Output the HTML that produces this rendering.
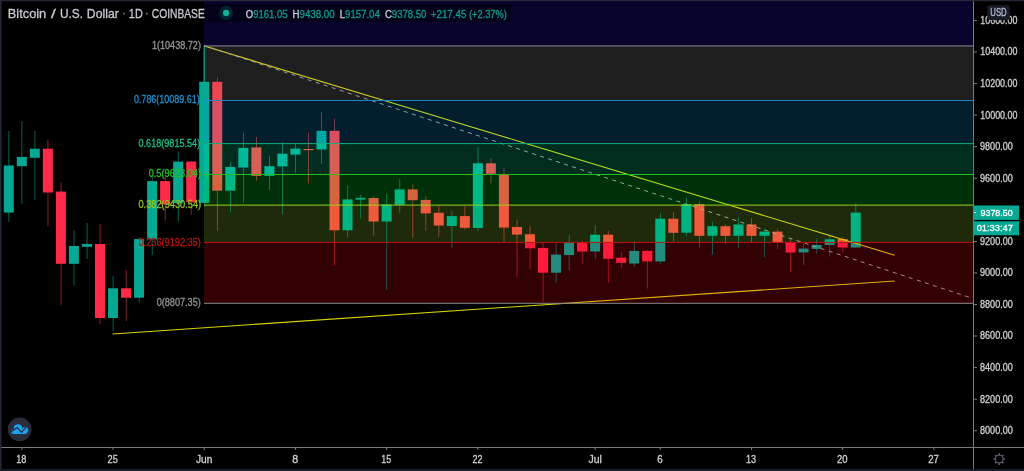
<!DOCTYPE html>
<html><head><meta charset="utf-8"><style>
html,body{margin:0;padding:0;background:#000;}
body{width:1024px;height:471px;overflow:hidden;position:relative;}
svg{position:absolute;left:0;top:0;display:block;}
text{font-family:"Liberation Sans",sans-serif;font-kerning:none;stroke-width:0.3px;}
</style></head><body>
<svg width="1024" height="471" viewBox="0 0 1024 471">
<defs><clipPath id="z0"><rect x="204" y="0" width="769" height="45.9"/></clipPath><clipPath id="z1"><rect x="204" y="45.9" width="769" height="54.6"/></clipPath><clipPath id="z2"><rect x="204" y="100.5" width="769" height="43.1"/></clipPath><clipPath id="z3"><rect x="204" y="143.6" width="769" height="30.9"/></clipPath><clipPath id="z4"><rect x="204" y="174.5" width="769" height="30.6"/></clipPath><clipPath id="z5"><rect x="204" y="205.1" width="769" height="37.3"/></clipPath><clipPath id="z6"><rect x="204" y="242.4" width="769" height="60.9"/></clipPath></defs>
<rect width="1024" height="471" fill="#000"/>
<g id="base"><rect x="8.44" y="131" width="0.85" height="91.0" fill="#037264"/>
<rect x="3.77" y="165.5" width="10" height="47.1" fill="#05a893"/>
<rect x="21.47" y="121" width="0.85" height="82.7" fill="#037264"/>
<rect x="16.80" y="156.9" width="10" height="9.3" fill="#05a893"/>
<rect x="34.51" y="131" width="0.85" height="68.8" fill="#037264"/>
<rect x="29.83" y="148.7" width="10" height="9.1" fill="#05a893"/>
<rect x="47.54" y="140" width="0.85" height="86.0" fill="#ac1d32"/>
<rect x="42.86" y="148.7" width="10" height="43.8" fill="#fd2a4a"/>
<rect x="60.57" y="182.6" width="0.85" height="122.2" fill="#ac1d32"/>
<rect x="55.89" y="191.6" width="10" height="72.2" fill="#fd2a4a"/>
<rect x="73.59" y="230.2" width="0.85" height="55.0" fill="#037264"/>
<rect x="68.92" y="246" width="10" height="17.8" fill="#05a893"/>
<rect x="86.62" y="223" width="0.85" height="36.0" fill="#037264"/>
<rect x="81.95" y="244" width="10" height="2.8" fill="#05a893"/>
<rect x="99.65" y="223.8" width="0.85" height="100.2" fill="#ac1d32"/>
<rect x="94.98" y="244" width="10" height="74.0" fill="#fd2a4a"/>
<rect x="112.68" y="276" width="0.85" height="54.8" fill="#037264"/>
<rect x="108.01" y="288.3" width="10" height="29.7" fill="#05a893"/>
<rect x="125.71" y="270.2" width="0.85" height="50.8" fill="#ac1d32"/>
<rect x="121.04" y="288.3" width="10" height="9.4" fill="#fd2a4a"/>
<rect x="138.74" y="237" width="0.85" height="65.8" fill="#037264"/>
<rect x="134.07" y="239.1" width="10" height="58.6" fill="#05a893"/>
<rect x="151.77" y="177.0" width="0.85" height="77.9" fill="#037264"/>
<rect x="147.10" y="181.1" width="10" height="58.3" fill="#05a893"/>
<rect x="164.80" y="176.8" width="0.85" height="43.9" fill="#ac1d32"/>
<rect x="160.13" y="181.1" width="10" height="23.4" fill="#fd2a4a"/>
<rect x="177.83" y="151.8" width="0.85" height="69.7" fill="#037264"/>
<rect x="173.16" y="161.6" width="10" height="41.6" fill="#05a893"/>
<rect x="190.86" y="161.0" width="0.85" height="53.6" fill="#ac1d32"/>
<rect x="186.19" y="161.6" width="10" height="40.7" fill="#fd2a4a"/>
<rect x="203.89" y="45.9" width="0.85" height="160.8" fill="#037264"/>
<rect x="199.22" y="81.8" width="10" height="121.1" fill="#05a893"/>
<rect x="216.92" y="77.1" width="0.85" height="153.7" fill="#ac1d32"/>
<rect x="212.25" y="81.8" width="10" height="108.9" fill="#fd2a4a"/>
<rect x="229.95" y="162.4" width="0.85" height="50.0" fill="#037264"/>
<rect x="225.28" y="167" width="10" height="23.7" fill="#05a893"/>
<rect x="242.98" y="132.6" width="0.85" height="70.1" fill="#037264"/>
<rect x="238.31" y="147.9" width="10" height="19.6" fill="#05a893"/>
<rect x="256.01" y="136.9" width="0.85" height="43.7" fill="#ac1d32"/>
<rect x="251.34" y="147.4" width="10" height="28.5" fill="#fd2a4a"/>
<rect x="269.04" y="156.1" width="0.85" height="33.9" fill="#037264"/>
<rect x="264.37" y="166.2" width="10" height="9.7" fill="#05a893"/>
<rect x="282.07" y="142" width="0.85" height="72.4" fill="#037264"/>
<rect x="277.40" y="153.7" width="10" height="12.7" fill="#05a893"/>
<rect x="295.10" y="143.2" width="0.85" height="29.7" fill="#037264"/>
<rect x="290.43" y="148.6" width="10" height="6.0" fill="#05a893"/>
<rect x="308.13" y="132.6" width="0.85" height="50.8" fill="#ac1d32"/>
<rect x="303.46" y="149" width="10" height="1.2" fill="#fd2a4a"/>
<rect x="321.16" y="111.6" width="0.85" height="52.2" fill="#037264"/>
<rect x="316.49" y="130.8" width="10" height="18.6" fill="#05a893"/>
<rect x="334.19" y="118.6" width="0.85" height="146.4" fill="#ac1d32"/>
<rect x="329.52" y="130.8" width="10" height="99.5" fill="#fd2a4a"/>
<rect x="347.22" y="185.3" width="0.85" height="52.0" fill="#037264"/>
<rect x="342.55" y="199.4" width="10" height="30.9" fill="#05a893"/>
<rect x="360.25" y="194.7" width="0.85" height="23.9" fill="#037264"/>
<rect x="355.58" y="197.9" width="10" height="1.7" fill="#05a893"/>
<rect x="373.28" y="196.3" width="0.85" height="39.2" fill="#ac1d32"/>
<rect x="368.61" y="198" width="10" height="23.5" fill="#fd2a4a"/>
<rect x="386.31" y="193.8" width="0.85" height="96.2" fill="#037264"/>
<rect x="381.64" y="204.4" width="10" height="17.1" fill="#05a893"/>
<rect x="399.34" y="178.8" width="0.85" height="34.0" fill="#037264"/>
<rect x="394.67" y="189.4" width="10" height="15.4" fill="#05a893"/>
<rect x="412.38" y="184" width="0.85" height="53.9" fill="#ac1d32"/>
<rect x="407.70" y="189.4" width="10" height="10.8" fill="#fd2a4a"/>
<rect x="425.40" y="196.2" width="0.85" height="34.7" fill="#ac1d32"/>
<rect x="420.73" y="199.9" width="10" height="13.5" fill="#fd2a4a"/>
<rect x="438.43" y="205.5" width="0.85" height="31.2" fill="#ac1d32"/>
<rect x="433.76" y="212.8" width="10" height="12.7" fill="#fd2a4a"/>
<rect x="451.46" y="210.9" width="0.85" height="37.1" fill="#037264"/>
<rect x="446.79" y="216.1" width="10" height="9.9" fill="#05a893"/>
<rect x="464.49" y="206.2" width="0.85" height="23.5" fill="#ac1d32"/>
<rect x="459.82" y="216.1" width="10" height="11.7" fill="#fd2a4a"/>
<rect x="477.52" y="146.9" width="0.85" height="83.9" fill="#037264"/>
<rect x="472.85" y="163.3" width="10" height="64.6" fill="#05a893"/>
<rect x="490.55" y="158.1" width="0.85" height="25.3" fill="#ac1d32"/>
<rect x="485.88" y="163.3" width="10" height="10.5" fill="#fd2a4a"/>
<rect x="503.58" y="168" width="0.85" height="74.1" fill="#ac1d32"/>
<rect x="498.91" y="174.5" width="10" height="53.1" fill="#fd2a4a"/>
<rect x="516.62" y="219.4" width="0.85" height="57.5" fill="#ac1d32"/>
<rect x="511.94" y="227.0" width="10" height="7.6" fill="#fd2a4a"/>
<rect x="529.64" y="226.2" width="0.85" height="42.9" fill="#ac1d32"/>
<rect x="524.97" y="234.2" width="10" height="14.1" fill="#fd2a4a"/>
<rect x="542.68" y="242.9" width="0.85" height="59.1" fill="#ac1d32"/>
<rect x="538.00" y="248.0" width="10" height="24.7" fill="#fd2a4a"/>
<rect x="555.71" y="242.9" width="0.85" height="40.3" fill="#037264"/>
<rect x="551.03" y="254.6" width="10" height="18.1" fill="#05a893"/>
<rect x="568.74" y="235.2" width="0.85" height="35.1" fill="#037264"/>
<rect x="564.06" y="242.9" width="10" height="12.2" fill="#05a893"/>
<rect x="581.76" y="241" width="0.85" height="22.7" fill="#ac1d32"/>
<rect x="577.09" y="242.9" width="10" height="8.6" fill="#fd2a4a"/>
<rect x="594.80" y="225.3" width="0.85" height="33.7" fill="#037264"/>
<rect x="590.12" y="234.7" width="10" height="16.8" fill="#05a893"/>
<rect x="607.83" y="230.9" width="0.85" height="51.6" fill="#ac1d32"/>
<rect x="603.15" y="234.7" width="10" height="24.1" fill="#fd2a4a"/>
<rect x="620.86" y="252" width="0.85" height="16.0" fill="#ac1d32"/>
<rect x="616.18" y="257.7" width="10" height="5.1" fill="#fd2a4a"/>
<rect x="633.88" y="241.7" width="0.85" height="25.1" fill="#037264"/>
<rect x="629.21" y="250.9" width="10" height="12.6" fill="#05a893"/>
<rect x="646.91" y="249.7" width="0.85" height="38.9" fill="#ac1d32"/>
<rect x="642.24" y="250.9" width="10" height="10.5" fill="#fd2a4a"/>
<rect x="659.95" y="212.9" width="0.85" height="50.8" fill="#037264"/>
<rect x="655.27" y="218.7" width="10" height="42.7" fill="#05a893"/>
<rect x="672.98" y="212.2" width="0.85" height="29.5" fill="#ac1d32"/>
<rect x="668.30" y="218.7" width="10" height="14.1" fill="#fd2a4a"/>
<rect x="686.00" y="198" width="0.85" height="38.5" fill="#037264"/>
<rect x="681.33" y="204.1" width="10" height="28.6" fill="#05a893"/>
<rect x="699.03" y="201.5" width="0.85" height="47.0" fill="#ac1d32"/>
<rect x="694.36" y="204.1" width="10" height="31.7" fill="#fd2a4a"/>
<rect x="712.07" y="221.7" width="0.85" height="32.8" fill="#037264"/>
<rect x="707.39" y="226.2" width="10" height="9.6" fill="#05a893"/>
<rect x="725.10" y="224.5" width="0.85" height="19.5" fill="#ac1d32"/>
<rect x="720.42" y="226.2" width="10" height="9.6" fill="#fd2a4a"/>
<rect x="738.12" y="217.5" width="0.85" height="30.7" fill="#037264"/>
<rect x="733.45" y="224.5" width="10" height="11.3" fill="#05a893"/>
<rect x="751.15" y="218.2" width="0.85" height="23.9" fill="#ac1d32"/>
<rect x="746.48" y="224.5" width="10" height="11.3" fill="#fd2a4a"/>
<rect x="764.19" y="228.7" width="0.85" height="28.6" fill="#037264"/>
<rect x="759.51" y="231.6" width="10" height="4.2" fill="#05a893"/>
<rect x="777.22" y="229.2" width="0.85" height="19.9" fill="#ac1d32"/>
<rect x="772.54" y="231.6" width="10" height="10.7" fill="#fd2a4a"/>
<rect x="790.25" y="238.6" width="0.85" height="33.3" fill="#ac1d32"/>
<rect x="785.57" y="242.5" width="10" height="10.0" fill="#fd2a4a"/>
<rect x="803.27" y="243.7" width="0.85" height="21.1" fill="#037264"/>
<rect x="798.60" y="248.6" width="10" height="3.8" fill="#05a893"/>
<rect x="816.31" y="239.1" width="0.85" height="14.7" fill="#037264"/>
<rect x="811.63" y="244.9" width="10" height="4.0" fill="#05a893"/>
<rect x="829.34" y="234.4" width="0.85" height="22.2" fill="#037264"/>
<rect x="824.66" y="239.3" width="10" height="5.7" fill="#05a893"/>
<rect x="842.37" y="237" width="0.85" height="15.2" fill="#ac1d32"/>
<rect x="837.69" y="239.0" width="10" height="8.5" fill="#fd2a4a"/>
<rect x="855.39" y="203.2" width="0.85" height="45.2" fill="#037264"/>
<rect x="850.72" y="212.6" width="10" height="34.9" fill="#05a893"/><line x1="204" y1="45.9" x2="894.6" y2="255.2" stroke="#d8d400" stroke-width="1.1"/><line x1="112.6" y1="334.0" x2="894.6" y2="281.0" stroke="#d8d400" stroke-width="1.1"/><line x1="204" y1="45.5" x2="969" y2="297.2" stroke="#a0a0a0" stroke-width="1" stroke-dasharray="4 4.44" stroke-dashoffset="0.63"/></g>
<g clip-path="url(#z0)"><rect x="204" y="0" width="769" height="45.9" fill="#08042c"/><rect x="203.89" y="45.9" width="0.85" height="160.8" fill="#066e74"/><line x1="204" y1="45.9" x2="894.6" y2="255.2" stroke="#b9b22c" stroke-width="1.1"/><line x1="112.6" y1="334.0" x2="894.6" y2="281.0" stroke="#b9b22c" stroke-width="1.1"/><line x1="204" y1="45.5" x2="969" y2="297.2" stroke="#8b87af" stroke-width="1" stroke-dasharray="4 4.44" stroke-dashoffset="0.63"/></g>
<g clip-path="url(#z1)"><rect x="204" y="45.9" width="769" height="54.6" fill="#1e1e1e"/><rect x="203.89" y="45.9" width="0.85" height="160.8" fill="#0f7d70"/>
<rect x="199.22" y="81.8" width="10" height="121.1" fill="#08aa96"/>
<rect x="216.92" y="77.1" width="0.85" height="153.7" fill="#a93941"/>
<rect x="212.25" y="81.8" width="10" height="108.9" fill="#eb4652"/><line x1="204" y1="45.9" x2="894.6" y2="255.2" stroke="#cfcc1e" stroke-width="1.1"/><line x1="112.6" y1="334.0" x2="894.6" y2="281.0" stroke="#cfcc1e" stroke-width="1.1"/><line x1="204" y1="45.5" x2="969" y2="297.2" stroke="#a1a1a1" stroke-width="1" stroke-dasharray="4 4.44" stroke-dashoffset="0.63"/></g>
<g clip-path="url(#z2)"><rect x="204" y="100.5" width="769" height="43.1" fill="#031e2c"/><rect x="203.89" y="45.9" width="0.85" height="160.8" fill="#017c7e"/>
<rect x="199.22" y="81.8" width="10" height="121.1" fill="#00a8a5"/>
<rect x="216.92" y="77.1" width="0.85" height="153.7" fill="#934052"/>
<rect x="212.25" y="81.8" width="10" height="108.9" fill="#d75064"/>
<rect x="242.98" y="132.6" width="0.85" height="70.1" fill="#017c7e"/>
<rect x="256.01" y="136.9" width="0.85" height="43.7" fill="#934052"/>
<rect x="282.07" y="142" width="0.85" height="72.4" fill="#017c7e"/>
<rect x="295.10" y="143.2" width="0.85" height="29.7" fill="#017c7e"/>
<rect x="308.13" y="132.6" width="0.85" height="50.8" fill="#934052"/>
<rect x="321.16" y="111.6" width="0.85" height="52.2" fill="#017c7e"/>
<rect x="316.49" y="130.8" width="10" height="18.6" fill="#00a8a5"/>
<rect x="334.19" y="118.6" width="0.85" height="146.4" fill="#934052"/>
<rect x="329.52" y="130.8" width="10" height="99.5" fill="#d75064"/><line x1="204" y1="45.9" x2="894.6" y2="255.2" stroke="#b4cc2c" stroke-width="1.1"/><line x1="112.6" y1="334.0" x2="894.6" y2="281.0" stroke="#b4cc2c" stroke-width="1.1"/><line x1="204" y1="45.5" x2="969" y2="297.2" stroke="#86a1af" stroke-width="1" stroke-dasharray="4 4.44" stroke-dashoffset="0.63"/></g>
<g clip-path="url(#z3)"><rect x="204" y="143.6" width="769" height="30.9" fill="#002d1e"/><rect x="203.89" y="45.9" width="0.85" height="160.8" fill="#008c73"/>
<rect x="199.22" y="81.8" width="10" height="121.1" fill="#00b99b"/>
<rect x="216.92" y="77.1" width="0.85" height="153.7" fill="#924f43"/>
<rect x="212.25" y="81.8" width="10" height="108.9" fill="#d75f55"/>
<rect x="229.95" y="162.4" width="0.85" height="50.0" fill="#008c73"/>
<rect x="225.28" y="167" width="10" height="23.7" fill="#00b99b"/>
<rect x="242.98" y="132.6" width="0.85" height="70.1" fill="#008c73"/>
<rect x="238.31" y="147.9" width="10" height="19.6" fill="#00b99b"/>
<rect x="256.01" y="136.9" width="0.85" height="43.7" fill="#924f43"/>
<rect x="251.34" y="147.4" width="10" height="28.5" fill="#d75f55"/>
<rect x="269.04" y="156.1" width="0.85" height="33.9" fill="#008c73"/>
<rect x="264.37" y="166.2" width="10" height="9.7" fill="#00b99b"/>
<rect x="282.07" y="142" width="0.85" height="72.4" fill="#008c73"/>
<rect x="277.40" y="153.7" width="10" height="12.7" fill="#00b99b"/>
<rect x="295.10" y="143.2" width="0.85" height="29.7" fill="#008c73"/>
<rect x="290.43" y="148.6" width="10" height="6.0" fill="#00b99b"/>
<rect x="308.13" y="132.6" width="0.85" height="50.8" fill="#924f43"/>
<rect x="303.46" y="149" width="10" height="1.2" fill="#d75f55"/>
<rect x="321.16" y="111.6" width="0.85" height="52.2" fill="#008c73"/>
<rect x="316.49" y="130.8" width="10" height="18.6" fill="#00b99b"/>
<rect x="334.19" y="118.6" width="0.85" height="146.4" fill="#924f43"/>
<rect x="329.52" y="130.8" width="10" height="99.5" fill="#d75f55"/>
<rect x="477.52" y="146.9" width="0.85" height="83.9" fill="#008c73"/>
<rect x="472.85" y="163.3" width="10" height="64.6" fill="#00b99b"/>
<rect x="490.55" y="158.1" width="0.85" height="25.3" fill="#924f43"/>
<rect x="485.88" y="163.3" width="10" height="10.5" fill="#d75f55"/>
<rect x="503.58" y="168" width="0.85" height="74.1" fill="#924f43"/>
<rect x="498.91" y="174.5" width="10" height="53.1" fill="#d75f55"/><line x1="204" y1="45.9" x2="894.6" y2="255.2" stroke="#b1db1e" stroke-width="1.1"/><line x1="112.6" y1="334.0" x2="894.6" y2="281.0" stroke="#b1db1e" stroke-width="1.1"/><line x1="204" y1="45.5" x2="969" y2="297.2" stroke="#83b0a1" stroke-width="1" stroke-dasharray="4 4.44" stroke-dashoffset="0.63"/></g>
<g clip-path="url(#z4)"><rect x="204" y="174.5" width="769" height="30.6" fill="#003008"/><rect x="203.89" y="45.9" width="0.85" height="160.8" fill="#008d5b"/>
<rect x="199.22" y="81.8" width="10" height="121.1" fill="#00b982"/>
<rect x="216.92" y="77.1" width="0.85" height="153.7" fill="#92532f"/>
<rect x="212.25" y="81.8" width="10" height="108.9" fill="#d76441"/>
<rect x="229.95" y="162.4" width="0.85" height="50.0" fill="#008d5b"/>
<rect x="225.28" y="167" width="10" height="23.7" fill="#00b982"/>
<rect x="242.98" y="132.6" width="0.85" height="70.1" fill="#008d5b"/>
<rect x="256.01" y="136.9" width="0.85" height="43.7" fill="#92532f"/>
<rect x="251.34" y="147.4" width="10" height="28.5" fill="#d76441"/>
<rect x="269.04" y="156.1" width="0.85" height="33.9" fill="#008d5b"/>
<rect x="264.37" y="166.2" width="10" height="9.7" fill="#00b982"/>
<rect x="282.07" y="142" width="0.85" height="72.4" fill="#008d5b"/>
<rect x="308.13" y="132.6" width="0.85" height="50.8" fill="#92532f"/>
<rect x="334.19" y="118.6" width="0.85" height="146.4" fill="#92532f"/>
<rect x="329.52" y="130.8" width="10" height="99.5" fill="#d76441"/>
<rect x="347.22" y="185.3" width="0.85" height="52.0" fill="#008d5b"/>
<rect x="342.55" y="199.4" width="10" height="30.9" fill="#00b982"/>
<rect x="360.25" y="194.7" width="0.85" height="23.9" fill="#008d5b"/>
<rect x="355.58" y="197.9" width="10" height="1.7" fill="#00b982"/>
<rect x="373.28" y="196.3" width="0.85" height="39.2" fill="#92532f"/>
<rect x="368.61" y="198" width="10" height="23.5" fill="#d76441"/>
<rect x="386.31" y="193.8" width="0.85" height="96.2" fill="#008d5b"/>
<rect x="381.64" y="204.4" width="10" height="17.1" fill="#00b982"/>
<rect x="399.34" y="178.8" width="0.85" height="34.0" fill="#008d5b"/>
<rect x="394.67" y="189.4" width="10" height="15.4" fill="#00b982"/>
<rect x="412.38" y="184" width="0.85" height="53.9" fill="#92532f"/>
<rect x="407.70" y="189.4" width="10" height="10.8" fill="#d76441"/>
<rect x="425.40" y="196.2" width="0.85" height="34.7" fill="#92532f"/>
<rect x="420.73" y="199.9" width="10" height="13.5" fill="#d76441"/>
<rect x="477.52" y="146.9" width="0.85" height="83.9" fill="#008d5b"/>
<rect x="472.85" y="163.3" width="10" height="64.6" fill="#00b982"/>
<rect x="490.55" y="158.1" width="0.85" height="25.3" fill="#92532f"/>
<rect x="503.58" y="168" width="0.85" height="74.1" fill="#92532f"/>
<rect x="498.91" y="174.5" width="10" height="53.1" fill="#d76441"/>
<rect x="686.00" y="198" width="0.85" height="38.5" fill="#008d5b"/>
<rect x="681.33" y="204.1" width="10" height="28.6" fill="#00b982"/>
<rect x="699.03" y="201.5" width="0.85" height="47.0" fill="#92532f"/>
<rect x="694.36" y="204.1" width="10" height="31.7" fill="#d76441"/>
<rect x="855.39" y="203.2" width="0.85" height="45.2" fill="#008d5b"/><line x1="204" y1="45.9" x2="894.6" y2="255.2" stroke="#b1de08" stroke-width="1.1"/><line x1="112.6" y1="334.0" x2="894.6" y2="281.0" stroke="#b1de08" stroke-width="1.1"/><line x1="204" y1="45.5" x2="969" y2="297.2" stroke="#83b38b" stroke-width="1" stroke-dasharray="4 4.44" stroke-dashoffset="0.63"/></g>
<g clip-path="url(#z5)"><rect x="204" y="205.1" width="769" height="37.3" fill="#1e2a09"/><rect x="203.89" y="45.9" width="0.85" height="160.8" fill="#0a885b"/>
<rect x="216.92" y="77.1" width="0.85" height="153.7" fill="#ad4b2c"/>
<rect x="229.95" y="162.4" width="0.85" height="50.0" fill="#0a885b"/>
<rect x="282.07" y="142" width="0.85" height="72.4" fill="#0a885b"/>
<rect x="334.19" y="118.6" width="0.85" height="146.4" fill="#ad4b2c"/>
<rect x="329.52" y="130.8" width="10" height="99.5" fill="#f05a3c"/>
<rect x="347.22" y="185.3" width="0.85" height="52.0" fill="#0a885b"/>
<rect x="342.55" y="199.4" width="10" height="30.9" fill="#00b482"/>
<rect x="360.25" y="194.7" width="0.85" height="23.9" fill="#0a885b"/>
<rect x="373.28" y="196.3" width="0.85" height="39.2" fill="#ad4b2c"/>
<rect x="368.61" y="198" width="10" height="23.5" fill="#f05a3c"/>
<rect x="386.31" y="193.8" width="0.85" height="96.2" fill="#0a885b"/>
<rect x="381.64" y="204.4" width="10" height="17.1" fill="#00b482"/>
<rect x="399.34" y="178.8" width="0.85" height="34.0" fill="#0a885b"/>
<rect x="412.38" y="184" width="0.85" height="53.9" fill="#ad4b2c"/>
<rect x="425.40" y="196.2" width="0.85" height="34.7" fill="#ad4b2c"/>
<rect x="420.73" y="199.9" width="10" height="13.5" fill="#f05a3c"/>
<rect x="438.43" y="205.5" width="0.85" height="31.2" fill="#ad4b2c"/>
<rect x="433.76" y="212.8" width="10" height="12.7" fill="#f05a3c"/>
<rect x="451.46" y="210.9" width="0.85" height="37.1" fill="#0a885b"/>
<rect x="446.79" y="216.1" width="10" height="9.9" fill="#00b482"/>
<rect x="464.49" y="206.2" width="0.85" height="23.5" fill="#ad4b2c"/>
<rect x="459.82" y="216.1" width="10" height="11.7" fill="#f05a3c"/>
<rect x="477.52" y="146.9" width="0.85" height="83.9" fill="#0a885b"/>
<rect x="472.85" y="163.3" width="10" height="64.6" fill="#00b482"/>
<rect x="503.58" y="168" width="0.85" height="74.1" fill="#ad4b2c"/>
<rect x="498.91" y="174.5" width="10" height="53.1" fill="#f05a3c"/>
<rect x="516.62" y="219.4" width="0.85" height="57.5" fill="#ad4b2c"/>
<rect x="511.94" y="227.0" width="10" height="7.6" fill="#f05a3c"/>
<rect x="529.64" y="226.2" width="0.85" height="42.9" fill="#ad4b2c"/>
<rect x="524.97" y="234.2" width="10" height="14.1" fill="#f05a3c"/>
<rect x="568.74" y="235.2" width="0.85" height="35.1" fill="#0a885b"/>
<rect x="581.76" y="241" width="0.85" height="22.7" fill="#ad4b2c"/>
<rect x="594.80" y="225.3" width="0.85" height="33.7" fill="#0a885b"/>
<rect x="590.12" y="234.7" width="10" height="16.8" fill="#00b482"/>
<rect x="607.83" y="230.9" width="0.85" height="51.6" fill="#ad4b2c"/>
<rect x="603.15" y="234.7" width="10" height="24.1" fill="#f05a3c"/>
<rect x="633.88" y="241.7" width="0.85" height="25.1" fill="#0a885b"/>
<rect x="659.95" y="212.9" width="0.85" height="50.8" fill="#0a885b"/>
<rect x="655.27" y="218.7" width="10" height="42.7" fill="#00b482"/>
<rect x="672.98" y="212.2" width="0.85" height="29.5" fill="#ad4b2c"/>
<rect x="668.30" y="218.7" width="10" height="14.1" fill="#f05a3c"/>
<rect x="686.00" y="198" width="0.85" height="38.5" fill="#0a885b"/>
<rect x="681.33" y="204.1" width="10" height="28.6" fill="#00b482"/>
<rect x="699.03" y="201.5" width="0.85" height="47.0" fill="#ad4b2c"/>
<rect x="694.36" y="204.1" width="10" height="31.7" fill="#f05a3c"/>
<rect x="712.07" y="221.7" width="0.85" height="32.8" fill="#0a885b"/>
<rect x="707.39" y="226.2" width="10" height="9.6" fill="#00b482"/>
<rect x="725.10" y="224.5" width="0.85" height="19.5" fill="#ad4b2c"/>
<rect x="720.42" y="226.2" width="10" height="9.6" fill="#f05a3c"/>
<rect x="738.12" y="217.5" width="0.85" height="30.7" fill="#0a885b"/>
<rect x="733.45" y="224.5" width="10" height="11.3" fill="#00b482"/>
<rect x="751.15" y="218.2" width="0.85" height="23.9" fill="#ad4b2c"/>
<rect x="746.48" y="224.5" width="10" height="11.3" fill="#f05a3c"/>
<rect x="764.19" y="228.7" width="0.85" height="28.6" fill="#0a885b"/>
<rect x="759.51" y="231.6" width="10" height="4.2" fill="#00b482"/>
<rect x="777.22" y="229.2" width="0.85" height="19.9" fill="#ad4b2c"/>
<rect x="772.54" y="231.6" width="10" height="10.7" fill="#f05a3c"/>
<rect x="790.25" y="238.6" width="0.85" height="33.3" fill="#ad4b2c"/>
<rect x="816.31" y="239.1" width="0.85" height="14.7" fill="#0a885b"/>
<rect x="829.34" y="234.4" width="0.85" height="22.2" fill="#0a885b"/>
<rect x="824.66" y="239.3" width="10" height="5.7" fill="#00b482"/>
<rect x="842.37" y="237" width="0.85" height="15.2" fill="#ad4b2c"/>
<rect x="837.69" y="239.0" width="10" height="8.5" fill="#f05a3c"/>
<rect x="855.39" y="203.2" width="0.85" height="45.2" fill="#0a885b"/>
<rect x="850.72" y="212.6" width="10" height="34.9" fill="#00b482"/><line x1="204" y1="45.9" x2="894.6" y2="255.2" stroke="#cfd809" stroke-width="1.1"/><line x1="112.6" y1="334.0" x2="894.6" y2="281.0" stroke="#cfd809" stroke-width="1.1"/><line x1="204" y1="45.5" x2="969" y2="297.2" stroke="#a1ad8c" stroke-width="1" stroke-dasharray="4 4.44" stroke-dashoffset="0.63"/></g>
<g clip-path="url(#z6)"><rect x="204" y="242.4" width="769" height="60.9" fill="#320104"/><rect x="334.19" y="118.6" width="0.85" height="146.4" fill="#bd1329"/>
<rect x="386.31" y="193.8" width="0.85" height="96.2" fill="#286056"/>
<rect x="451.46" y="210.9" width="0.85" height="37.1" fill="#286056"/>
<rect x="516.62" y="219.4" width="0.85" height="57.5" fill="#bd1329"/>
<rect x="529.64" y="226.2" width="0.85" height="42.9" fill="#bd1329"/>
<rect x="524.97" y="234.2" width="10" height="14.1" fill="#ff1c3a"/>
<rect x="542.68" y="242.9" width="0.85" height="59.1" fill="#bd1329"/>
<rect x="538.00" y="248.0" width="10" height="24.7" fill="#ff1c3a"/>
<rect x="555.71" y="242.9" width="0.85" height="40.3" fill="#286056"/>
<rect x="551.03" y="254.6" width="10" height="18.1" fill="#238c7d"/>
<rect x="568.74" y="235.2" width="0.85" height="35.1" fill="#286056"/>
<rect x="564.06" y="242.9" width="10" height="12.2" fill="#238c7d"/>
<rect x="581.76" y="241" width="0.85" height="22.7" fill="#bd1329"/>
<rect x="577.09" y="242.9" width="10" height="8.6" fill="#ff1c3a"/>
<rect x="594.80" y="225.3" width="0.85" height="33.7" fill="#286056"/>
<rect x="590.12" y="234.7" width="10" height="16.8" fill="#238c7d"/>
<rect x="607.83" y="230.9" width="0.85" height="51.6" fill="#bd1329"/>
<rect x="603.15" y="234.7" width="10" height="24.1" fill="#ff1c3a"/>
<rect x="620.86" y="252" width="0.85" height="16.0" fill="#bd1329"/>
<rect x="616.18" y="257.7" width="10" height="5.1" fill="#ff1c3a"/>
<rect x="633.88" y="241.7" width="0.85" height="25.1" fill="#286056"/>
<rect x="629.21" y="250.9" width="10" height="12.6" fill="#238c7d"/>
<rect x="646.91" y="249.7" width="0.85" height="38.9" fill="#bd1329"/>
<rect x="642.24" y="250.9" width="10" height="10.5" fill="#ff1c3a"/>
<rect x="659.95" y="212.9" width="0.85" height="50.8" fill="#286056"/>
<rect x="655.27" y="218.7" width="10" height="42.7" fill="#238c7d"/>
<rect x="699.03" y="201.5" width="0.85" height="47.0" fill="#bd1329"/>
<rect x="712.07" y="221.7" width="0.85" height="32.8" fill="#286056"/>
<rect x="725.10" y="224.5" width="0.85" height="19.5" fill="#bd1329"/>
<rect x="738.12" y="217.5" width="0.85" height="30.7" fill="#286056"/>
<rect x="764.19" y="228.7" width="0.85" height="28.6" fill="#286056"/>
<rect x="777.22" y="229.2" width="0.85" height="19.9" fill="#bd1329"/>
<rect x="790.25" y="238.6" width="0.85" height="33.3" fill="#bd1329"/>
<rect x="785.57" y="242.5" width="10" height="10.0" fill="#ff1c3a"/>
<rect x="803.27" y="243.7" width="0.85" height="21.1" fill="#286056"/>
<rect x="798.60" y="248.6" width="10" height="3.8" fill="#238c7d"/>
<rect x="816.31" y="239.1" width="0.85" height="14.7" fill="#286056"/>
<rect x="811.63" y="244.9" width="10" height="4.0" fill="#238c7d"/>
<rect x="829.34" y="234.4" width="0.85" height="22.2" fill="#286056"/>
<rect x="824.66" y="239.3" width="10" height="5.7" fill="#238c7d"/>
<rect x="842.37" y="237" width="0.85" height="15.2" fill="#bd1329"/>
<rect x="837.69" y="239.0" width="10" height="8.5" fill="#ff1c3a"/>
<rect x="855.39" y="203.2" width="0.85" height="45.2" fill="#286056"/>
<rect x="850.72" y="212.6" width="10" height="34.9" fill="#238c7d"/><line x1="204" y1="45.9" x2="894.6" y2="255.2" stroke="#e3af04" stroke-width="1.1"/><line x1="112.6" y1="334.0" x2="894.6" y2="281.0" stroke="#e3af04" stroke-width="1.1"/><line x1="204" y1="45.5" x2="969" y2="297.2" stroke="#b58487" stroke-width="1" stroke-dasharray="4 4.44" stroke-dashoffset="0.63"/></g>
<rect x="203.55" y="46.2" width="1.1" height="35.8" fill="#04a58f"/>
<rect x="204" y="45.4" width="769" height="1" fill="#8c8a9c"/>
<rect x="204" y="100.0" width="769" height="1" fill="#1f86c0"/>
<rect x="204" y="143.1" width="769" height="1" fill="#12b07f"/>
<rect x="204" y="174.0" width="769" height="1" fill="#20c020"/>
<rect x="204" y="204.6" width="769" height="1" fill="#96d420"/>
<rect x="204" y="241.9" width="769" height="1" fill="#c01414"/>
<rect x="204" y="302.8" width="769" height="1" fill="#8a8a8a"/>
<g id="fiblabels">
<text x="151.91" y="48.60" font-size="10.4" textLength="49.06" lengthAdjust="spacingAndGlyphs" fill="#969696" stroke="#969696">1(10438.72)</text>
<text x="133.95" y="103.30" font-size="10.4" textLength="65.70" lengthAdjust="spacingAndGlyphs" fill="#1e90d0" stroke="#1e90d0">0.786(10089.61)</text>
<text x="138.55" y="146.60" font-size="10.4" textLength="61.62" lengthAdjust="spacingAndGlyphs" fill="#14c088" stroke="#14c088">0.618(9815.54)</text>
<text x="148.64" y="177.30" font-size="10.4" textLength="52.43" lengthAdjust="spacingAndGlyphs" fill="#22c322" stroke="#22c322">0.5(9623.04)</text>
<text x="138.44" y="207.70" font-size="10.4" textLength="62.73" lengthAdjust="spacingAndGlyphs" fill="#94c424" stroke="#94c424">0.382(9430.54)</text>
<text x="138.64" y="245.60" font-size="10.4" textLength="62.13" lengthAdjust="spacingAndGlyphs" fill="#b81212" stroke="#b81212">0.236(9192.35)</text>
<text x="156.64" y="305.70" font-size="10.4" textLength="44.12" lengthAdjust="spacingAndGlyphs" fill="#969696" stroke="#969696">0(8807.35)</text>
</g>
<rect x="5" y="3.8" width="506" height="18" fill="rgba(0,0,0,0.45)"/>
<circle cx="226.1" cy="13" r="6.9" fill="rgba(5,168,147,0.2)"/>
<circle cx="226.1" cy="13" r="3.15" fill="#12b096"/>
<text x="7.85" y="17.60" font-size="13.3" textLength="38.38" lengthAdjust="spacingAndGlyphs" fill="#c9cbd2" stroke="#c9cbd2">Bitcoin</text>
<text x="50.90" y="17.60" font-size="13.3" textLength="4.80" lengthAdjust="spacingAndGlyphs" fill="#c9cbd2" stroke="#c9cbd2">/</text>
<text x="59.88" y="17.60" font-size="13.3" textLength="23.10" lengthAdjust="spacingAndGlyphs" fill="#c9cbd2" stroke="#c9cbd2">U.S.</text>
<text x="86.79" y="17.60" font-size="13.3" textLength="32.01" lengthAdjust="spacingAndGlyphs" fill="#c9cbd2" stroke="#c9cbd2">Dollar</text>
<text x="128.87" y="17.60" font-size="13.3" textLength="13.95" lengthAdjust="spacingAndGlyphs" fill="#c9cbd2" stroke="#c9cbd2">1D</text>
<text x="151.78" y="17.60" font-size="13.3" textLength="52.96" lengthAdjust="spacingAndGlyphs" fill="#c9cbd2" stroke="#c9cbd2">COINBASE</text>
<text x="121.63" y="17.30" font-size="13.3" textLength="4.55" lengthAdjust="spacingAndGlyphs" fill="#7a7e90" stroke="#7a7e90">·</text>
<text x="144.53" y="17.30" font-size="13.3" textLength="4.55" lengthAdjust="spacingAndGlyphs" fill="#7a7e90" stroke="#7a7e90">·</text>
<text x="245.75" y="17.60" font-size="10.0" textLength="41.85" lengthAdjust="spacingAndGlyphs" fill="#0a9e8c" stroke="#0a9e8c"><tspan fill="#c9cbd2" stroke="#c9cbd2">O</tspan>9161.05</text>
<text x="292.50" y="17.60" font-size="10.0" textLength="42.18" lengthAdjust="spacingAndGlyphs" fill="#0a9e8c" stroke="#0a9e8c"><tspan fill="#c9cbd2" stroke="#c9cbd2">H</tspan>9438.00</text>
<text x="339.71" y="17.60" font-size="10.0" textLength="40.07" lengthAdjust="spacingAndGlyphs" fill="#0a9e8c" stroke="#0a9e8c"><tspan fill="#c9cbd2" stroke="#c9cbd2">L</tspan>9157.04</text>
<text x="384.91" y="17.60" font-size="10.0" textLength="41.56" lengthAdjust="spacingAndGlyphs" fill="#0a9e8c" stroke="#0a9e8c"><tspan fill="#c9cbd2" stroke="#c9cbd2">C</tspan>9378.50</text>
<text x="430.72" y="17.60" font-size="10.0" textLength="35.69" lengthAdjust="spacingAndGlyphs" fill="#0a9e8c" stroke="#0a9e8c">+217.45</text>
<text x="469.03" y="17.60" font-size="10.0" textLength="37.75" lengthAdjust="spacingAndGlyphs" fill="#0a9e8c" stroke="#0a9e8c">(+2.37%)</text>
<rect x="973" y="0" width="1" height="469" fill="#7a7a7a"/>
<rect x="0" y="447" width="1024" height="1" fill="#7a7a7a"/>
<g fill="#d0d0d0" stroke="#d0d0d0">
<rect x="974" y="19.9" width="3" height="1" fill="#7a7a7a" stroke="none"/>
<text x="980.32" y="23.84" font-size="10.0" textLength="37.13" lengthAdjust="spacingAndGlyphs">10600.00</text>
<rect x="974" y="51.5" width="3" height="1" fill="#7a7a7a" stroke="none"/>
<text x="980.32" y="55.40" font-size="10.0" textLength="37.13" lengthAdjust="spacingAndGlyphs">10400.00</text>
<rect x="974" y="83.1" width="3" height="1" fill="#7a7a7a" stroke="none"/>
<text x="980.32" y="86.96" font-size="10.0" textLength="37.13" lengthAdjust="spacingAndGlyphs">10200.00</text>
<rect x="974" y="114.6" width="3" height="1" fill="#7a7a7a" stroke="none"/>
<text x="980.32" y="118.52" font-size="10.0" textLength="37.13" lengthAdjust="spacingAndGlyphs">10000.00</text>
<rect x="974" y="146.2" width="3" height="1" fill="#7a7a7a" stroke="none"/>
<text x="979.97" y="150.08" font-size="10.0" textLength="32.88" lengthAdjust="spacingAndGlyphs">9800.00</text>
<rect x="974" y="177.7" width="3" height="1" fill="#7a7a7a" stroke="none"/>
<text x="979.97" y="181.64" font-size="10.0" textLength="32.88" lengthAdjust="spacingAndGlyphs">9600.00</text>
<rect x="974" y="240.9" width="3" height="1" fill="#7a7a7a" stroke="none"/>
<text x="979.97" y="244.77" font-size="10.0" textLength="32.88" lengthAdjust="spacingAndGlyphs">9200.00</text>
<rect x="974" y="272.4" width="3" height="1" fill="#7a7a7a" stroke="none"/>
<text x="979.97" y="276.33" font-size="10.0" textLength="32.88" lengthAdjust="spacingAndGlyphs">9000.00</text>
<rect x="974" y="304.0" width="3" height="1" fill="#7a7a7a" stroke="none"/>
<text x="980.01" y="307.89" font-size="10.0" textLength="32.85" lengthAdjust="spacingAndGlyphs">8800.00</text>
<rect x="974" y="335.5" width="3" height="1" fill="#7a7a7a" stroke="none"/>
<text x="980.01" y="339.45" font-size="10.0" textLength="32.85" lengthAdjust="spacingAndGlyphs">8600.00</text>
<rect x="974" y="367.1" width="3" height="1" fill="#7a7a7a" stroke="none"/>
<text x="980.01" y="371.01" font-size="10.0" textLength="32.85" lengthAdjust="spacingAndGlyphs">8400.00</text>
<rect x="974" y="398.7" width="3" height="1" fill="#7a7a7a" stroke="none"/>
<text x="980.01" y="402.57" font-size="10.0" textLength="32.85" lengthAdjust="spacingAndGlyphs">8200.00</text>
<rect x="974" y="430.2" width="3" height="1" fill="#7a7a7a" stroke="none"/>
<text x="980.01" y="434.13" font-size="10.0" textLength="32.85" lengthAdjust="spacingAndGlyphs">8000.00</text>
<rect x="21.30" y="447.5" width="1" height="2.5" fill="#7a7a7a" stroke="none"/>
<text x="16.28" y="462.90" font-size="10.3" textLength="10.14" lengthAdjust="spacingAndGlyphs">18</text>
<rect x="112.51" y="447.5" width="1" height="2.5" fill="#7a7a7a" stroke="none"/>
<text x="107.55" y="462.90" font-size="10.3" textLength="10.25" lengthAdjust="spacingAndGlyphs">25</text>
<rect x="203.72" y="447.5" width="1" height="2.5" fill="#7a7a7a" stroke="none"/>
<text x="195.96" y="462.90" font-size="10.3" textLength="16.42" lengthAdjust="spacingAndGlyphs">Jun</text>
<rect x="294.93" y="447.5" width="1" height="2.5" fill="#7a7a7a" stroke="none"/>
<text x="292.17" y="462.90" font-size="10.3" textLength="5.93" lengthAdjust="spacingAndGlyphs">8</text>
<rect x="386.14" y="447.5" width="1" height="2.5" fill="#7a7a7a" stroke="none"/>
<text x="381.21" y="462.90" font-size="10.3" textLength="9.96" lengthAdjust="spacingAndGlyphs">15</text>
<rect x="477.35" y="447.5" width="1" height="2.5" fill="#7a7a7a" stroke="none"/>
<text x="472.55" y="462.90" font-size="10.3" textLength="10.00" lengthAdjust="spacingAndGlyphs">22</text>
<rect x="594.62" y="447.5" width="1" height="2.5" fill="#7a7a7a" stroke="none"/>
<text x="588.41" y="462.90" font-size="10.3" textLength="13.36" lengthAdjust="spacingAndGlyphs">Jul</text>
<rect x="659.77" y="447.5" width="1" height="2.5" fill="#7a7a7a" stroke="none"/>
<text x="657.22" y="462.90" font-size="10.3" textLength="5.42" lengthAdjust="spacingAndGlyphs">6</text>
<rect x="750.98" y="447.5" width="1" height="2.5" fill="#7a7a7a" stroke="none"/>
<text x="745.99" y="462.90" font-size="10.3" textLength="10.09" lengthAdjust="spacingAndGlyphs">13</text>
<rect x="842.19" y="447.5" width="1" height="2.5" fill="#7a7a7a" stroke="none"/>
<text x="837.06" y="462.90" font-size="10.3" textLength="10.55" lengthAdjust="spacingAndGlyphs">20</text>
<rect x="933.40" y="447.5" width="1" height="2.5" fill="#7a7a7a" stroke="none"/>
<text x="928.27" y="462.90" font-size="10.3" textLength="10.66" lengthAdjust="spacingAndGlyphs">27</text>
</g>
<rect x="987.3" y="5.3" width="22.5" height="14.6" rx="2.6" fill="#181c29"/>
<text x="990.30" y="15.80" font-size="10.4" textLength="16.37" lengthAdjust="spacingAndGlyphs" fill="#b8bccc" stroke="#b8bccc">USD</text>
<rect x="973.5" y="205.5" width="45.6" height="14.4" fill="#05a893"/>
<rect x="974" y="212" width="2" height="1" fill="#fff"/>
<text x="980.48" y="216.20" font-size="9.6" textLength="32.27" lengthAdjust="spacingAndGlyphs" fill="#fff" stroke="#fff">9378.50</text>
<rect x="973.5" y="221.3" width="45.6" height="14" fill="#05a893"/>
<text x="976.64" y="231.20" font-size="9.8" textLength="36.23" lengthAdjust="spacingAndGlyphs" fill="#fff" stroke="#fff">01:33:47</text>
<g transform="translate(999.2 459.1)" stroke="#5f6375" fill="none">
<circle r="3.9" stroke-width="1.15"/>
<g stroke-width="1.5">
<line x1="0" y1="-4.2" x2="0" y2="-5.8"/><line x1="0" y1="4.2" x2="0" y2="5.8"/>
<line x1="-4.2" y1="0" x2="-5.8" y2="0"/><line x1="4.2" y1="0" x2="5.8" y2="0"/>
<line x1="3.0" y1="3.0" x2="4.1" y2="4.1"/><line x1="-3.0" y1="-3.0" x2="-4.1" y2="-4.1"/>
<line x1="3.0" y1="-3.0" x2="4.1" y2="-4.1"/><line x1="-3.0" y1="3.0" x2="-4.1" y2="4.1"/>
</g></g>
<circle cx="19.6" cy="429.3" r="11.9" fill="#2a2d3b"/>
<g fill="#1ea0f0"><circle cx="18" cy="428.4" r="4.1"/><circle cx="25" cy="430.2" r="3.1"/><circle cx="13.2" cy="431.6" r="2.2"/>
<rect x="13" y="430" width="13" height="4" rx="0.6"/></g>
<polyline points="10.8,431.9 17.2,427.5 21.5,432.3 26,427.2" fill="none" stroke="#2a2d3b" stroke-width="1.25" stroke-linejoin="miter"/>
<rect x="0" y="0" width="1024" height="1.2" fill="#262a36"/>
<rect x="0" y="0" width="1.5" height="471" fill="#262a36"/>
<rect x="0" y="469" width="1024" height="2" fill="#1a1e2a"/>
</svg>
</body></html>
